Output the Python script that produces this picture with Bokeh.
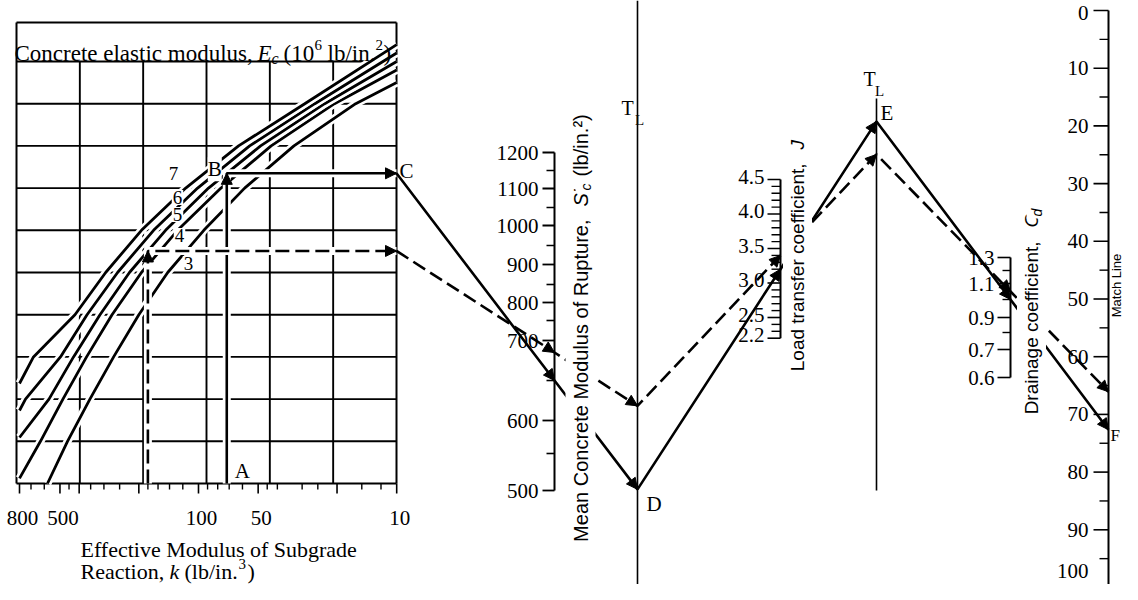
import numpy as np
from bokeh.plotting import figure
from bokeh.models import Range1d, Label, Arrow, NormalHead, ColumnDataSource
from bokeh.embed import file_html
from bokeh.resources import INLINE

# ---------------- values ----------------
# left chart: effective modulus of subgrade reaction k (log axis, 800 -> 10)
k_tick_labels = [800, 500, 100, 50, 10]
k_major_ticks = [800, 500, 400, 200, 100, 50, 20, 10]
k_minor_ticks = [700, 600, 450, 350, 300, 250, 180, 160, 140, 120,
                 90, 80, 70, 60, 45, 40, 30, 25, 15, 12]

# concrete elastic modulus curves (10^6 lb/in.^2): k where each curve crosses the grid rows
ec_names = [7, 6, 5, 4, 3]
ec3_k = [578, 458, 353, 268, 200, 143, 94, 58.5, 33, 16.1, 10]
ec3_row = [0, 1, 2, 3, 4, 5, 6, 7, 8, 9, 9.5]
ec4_k = [800, 627, 483, 367, 273, 194, 127.5, 77, 43, 20.6, 10]
ec4_row = [0.12, 1, 2, 3, 4, 5, 6, 7, 8, 9, 9.8]
ec5_k = [800, 568, 427, 314, 223, 146.6, 89, 48.6, 23.1, 10]
ec5_row = [1.09, 2, 3, 4, 5, 6, 7, 8, 9, 10.0]
ec6_k = [800, 746, 497, 365, 256, 168.5, 101, 55.2, 25.9, 10]
ec6_row = [1.73, 2, 3, 4, 5, 6, 7, 8, 9, 10.2]
ec7_k = [800, 680, 420, 294, 194, 116, 62.8, 29.1, 10]
ec7_row = [2.37, 3, 4, 5, 6, 7, 8, 9, 10.4]

# mean concrete modulus of rupture S'c (lb/in.^2)
sc_major = [1200, 1100, 1000, 900, 800, 700, 600, 500]
sc_minor = [1150, 1050, 950, 850, 750, 650, 550]
# load transfer coefficient J
j_major = [4.5, 4.0, 3.5, 3.0, 2.5, 2.2]
j_minor = [4.4, 4.3, 4.2, 4.1, 3.9, 3.8, 3.7, 3.6, 3.4, 3.3, 3.2, 3.1,
           2.9, 2.8, 2.7, 2.6, 2.4, 2.3]
# drainage coefficient Cd
cd_major = [1.3, 1.1, 0.9, 0.7, 0.6]
cd_minor = [1.2, 1.0, 0.8]
# match line
match_major = [0, 10, 20, 30, 40, 50, 60, 70, 80, 90, 100]
match_minor = [5, 15, 25, 35, 45, 55, 65, 75, 85, 95]

# the two worked examples (solid, dashed)
ex_k = [72, 180]
ex_ec = [5, 5]
ex_sc = [650, 685]
ex_j = [3.2, 3.4]
ex_cd = [1.0, 1.05]

# ---------------- layout (picture pixels) ----------------
W, H = 1122, 584
BOX_L, BOX_R, BOX_T, BAND_B, BOX_B = 16, 396, 22, 61, 483
ROW_H = 42.2
LOG800 = np.log10(800)


def kx(k):
    return 19 + (LOG800 - np.log10(np.asarray(k, dtype=float))) * 198.2


def ry(r):
    return BOX_B - np.asarray(r, dtype=float) * ROW_H


SC_X = 554
SC_CAL_V = [500, 550, 600, 650, 700, 750, 800, 850, 900, 950, 1000, 1050, 1100, 1150, 1200]
SC_CAL_Y = [490, 453, 420, 380, 340, 320, 302, 284, 264, 245, 225, 207, 188, 170, 152]


def sy(v):
    return np.interp(v, SC_CAL_V, SC_CAL_Y)


TL1_X = 637
J_X = 780


def jy(v):
    return 179 + (4.5 - np.asarray(v, dtype=float)) * 69


TL2_X = 876
CD_X = 1010
CD_CAL_V = [0.6, 0.7, 0.8, 0.9, 1.0, 1.1, 1.2, 1.3]
CD_CAL_Y = [377, 349, 332, 317, 299, 283, 270, 257]


def cy(v):
    return np.interp(v, CD_CAL_V, CD_CAL_Y)


M_X = 1108


def my(v):
    return 10 + np.asarray(v, dtype=float) * 5.77


SERIF = "Liberation Serif"
SANS = "Liberation Sans"

p = figure(width=W, height=H, x_range=Range1d(0, W), y_range=Range1d(H, 0),
           output_backend="svg", toolbar_location=None, min_border=0,
           x_axis_location=None, y_axis_location=None)
p.grid.visible = False
p.outline_line_color = None
p.background_fill_color = "white"
p.border_fill_color = "white"


def seg(x0, y0, x1, y1, w=1.6, color="black", dash="solid"):
    p.segment(x0=list(map(float, x0)), y0=list(map(float, y0)),
              x1=list(map(float, x1)), y1=list(map(float, y1)),
              line_color=color, line_width=w, line_dash=dash)


def txt(x, y, s, size=21, font=SERIF, align="left", baseline="middle", angle=0.0,
        style="normal", bg=False, pad=0):
    lab = Label(x=float(x), y=float(y), text=s, text_font=font, text_font_size=f"{size}px",
                text_align=align, text_baseline=baseline, angle=angle,
                text_font_style=style, text_color="black")
    if bg:
        lab.background_fill_color = "white"
        lab.background_fill_alpha = 1.0
        lab.padding = pad
    p.add_layout(lab)


# ---------------- left chart: grid and box ----------------
gx = [BOX_L + (BOX_R - BOX_L) * i / 6 for i in range(1, 6)]
seg(gx, [BAND_B] * 5, gx, [BOX_B] * 5, w=1.9)
rows = np.arange(1, 10)
seg([BOX_L] * 9, ry(rows), [BOX_R] * 9, ry(rows), w=1.9)
seg([BOX_L, BOX_L, BOX_L, BOX_R, BOX_L],
    [BOX_T, BOX_T, BAND_B, BOX_T, BOX_B],
    [BOX_R, BOX_L, BOX_R, BOX_R, BOX_R],
    [BOX_T, BOX_B, BAND_B, BOX_B, BOX_B], w=2.0)

# k axis ticks and labels
seg(kx(k_major_ticks), [BOX_B] * len(k_major_ticks), kx(k_major_ticks),
    [BOX_B + 10] * len(k_major_ticks), w=1.6)
seg(kx(k_minor_ticks), [BOX_B] * len(k_minor_ticks), kx(k_minor_ticks),
    [BOX_B + 6] * len(k_minor_ticks), w=1.4)
for v in k_tick_labels:
    txt(kx(v) + 3, 517, str(v), size=21, align="center")

# Ec curves
curve_data = {3: (ec3_k, ec3_row), 4: (ec4_k, ec4_row), 5: (ec5_k, ec5_row),
              6: (ec6_k, ec6_row), 7: (ec7_k, ec7_row)}
for e in ec_names[::-1]:
    ks, rr = curve_data[e]
    xs, ys = list(kx(ks)), list(ry(rr))
    p.line(xs, ys, line_color="white", line_width=8)
    p.line(xs, ys, line_color="black", line_width=2.8)


def curve_row(ec, k):
    ks, rr = curve_data[ec]
    return float(np.interp(np.log10(k), np.log10(ks)[::-1], np.asarray(rr)[::-1]))


def extend(a, b, x):
    return b[1] + (b[1] - a[1]) / (b[0] - a[0]) * (x - b[0])


# ---------------- worked examples ----------------
heads = dict(x0=[], y0=[], x1=[], y1=[])


def head(a, b):
    dx, dy = b[0] - a[0], b[1] - a[1]
    L = (dx * dx + dy * dy) ** 0.5
    heads["x0"].append(b[0] - dx / L * 6)
    heads["y0"].append(b[1] - dy / L * 6)
    heads["x1"].append(b[0])
    heads["y1"].append(b[1])


pts_store = []
for i in range(2):
    dash = "solid" if i == 0 else "14 6"
    xk = float(kx(ex_k[i]))
    yr = float(ry(curve_row(ex_ec[i], ex_k[i])))
    A = (xk, BOX_B)
    B = (xk, yr)
    C = (BOX_R, yr)
    S = (SC_X, float(sy(ex_sc[i])))
    D = (TL1_X, extend(C, S, TL1_X))
    J = (J_X, float(jy(ex_j[i])))
    E = (TL2_X, extend(D, J, TL2_X))
    Q = (CD_X, float(cy(ex_cd[i])))
    F = (M_X, extend(E, Q, M_X))
    pts_store.append((A, B, C, S, D, J, E, Q, F))
    left = [A, B, C]
    p.line([q[0] for q in left], [q[1] for q in left], line_color="white", line_width=8)
    p.line([q[0] for q in left], [q[1] for q in left], line_color="black",
           line_width=2.6, line_dash=dash)
    right = [C, S, D, J, E, Q, F]
    p.line([q[0] for q in right], [q[1] for q in right], line_color="black",
           line_width=2.6, line_dash=dash)
    for a, b in [(A, B), (B, C), (C, S), (S, D), (D, J), (J, E), (E, Q), (Q, F)]:
        head(a, b)

p.add_layout(Arrow(end=NormalHead(size=11, fill_color="black", line_color="black", line_width=1),
                   x_start="x0", y_start="y0", x_end="x1", y_end="y1",
                   source=ColumnDataSource(heads), line_alpha=0))

# ---------------- scales ----------------
# S'c
seg([SC_X], [sy(1200)], [SC_X], [sy(500)], w=2.0)
seg([SC_X - 12] * len(sc_major), sy(sc_major), [SC_X] * len(sc_major), sy(sc_major), w=1.8)
seg([SC_X - 8] * len(sc_minor), sy(sc_minor), [SC_X] * len(sc_minor), sy(sc_minor), w=1.6)
for v in sc_major:
    txt(SC_X - 16, sy(v), str(v), size=21, align="right")

# turning lines
seg([TL1_X], [0], [TL1_X], [584], w=1.6)
seg([TL2_X], [98], [TL2_X], [490], w=1.6)
txt(TL1_X - 10, 107, "T", size=20, align="center")
txt(TL1_X + 2, 119, "L", size=15, align="center")
txt(TL2_X - 7, 78, "T", size=20, align="center")
txt(TL2_X + 3, 90, "L", size=15, align="center")

# J
seg([J_X], [jy(4.5)], [J_X], [jy(2.2)], w=2.0)
seg([J_X - 13] * len(j_major), jy(j_major), [J_X] * len(j_major), jy(j_major), w=1.6)
seg([J_X - 9] * len(j_minor), jy(j_minor), [J_X] * len(j_minor), jy(j_minor), w=1.4)
for v in j_major:
    txt(J_X - 16, jy(v) - 3, f"{v:.1f}", size=21, align="right")

# Cd
seg([CD_X], [cy(1.3)], [CD_X], [cy(0.6)], w=2.0)
seg([CD_X - 13] * len(cd_major), cy(cd_major), [CD_X] * len(cd_major), cy(cd_major), w=1.6)
seg([CD_X - 8] * len(cd_minor), cy(cd_minor), [CD_X] * len(cd_minor), cy(cd_minor), w=1.4)
for v in cd_major:
    txt(CD_X - 16, cy(v), f"{v:.1f}", size=21, align="right")

# match line
seg([M_X], [my(0)], [M_X], [H], w=2.0)
seg([M_X - 15] * len(match_major), my(match_major), [M_X] * len(match_major), my(match_major), w=1.6)
seg([M_X - 9] * len(match_minor), my(match_minor), [M_X] * len(match_minor), my(match_minor), w=1.4)
for v in match_major:
    ylab = float(my(v))
    ylab = min(max(ylab, 12.0), H - 14.0)
    txt(M_X - 20, ylab, str(v), size=21, align="right")

# ---------------- texts ----------------
# title band of left chart
txt(14, 53, "Concrete elastic modulus,", size=23, baseline="alphabetic")
txt(257, 53, "E", size=23, baseline="alphabetic", style="italic")
txt(271, 58, "c", size=16, baseline="alphabetic", style="italic")
txt(283, 53, "(10", size=23, baseline="alphabetic")
txt(314, 44, "6", size=15, baseline="alphabetic")
txt(327, 53, "lb/in.", size=23, baseline="alphabetic")
txt(375, 44, "2", size=15, baseline="alphabetic")
txt(383, 53, ")", size=23, baseline="alphabetic")

# k axis title
txt(80, 549, "Effective Modulus of Subgrade", size=22, baseline="alphabetic")
txt(80, 571, "Reaction,", size=22, baseline="alphabetic")
txt(169, 571, "k", size=22, baseline="alphabetic", style="italic")
txt(184, 571, "(lb/in.", size=22, baseline="alphabetic")
txt(238, 563, "3", size=15, baseline="alphabetic")
txt(247, 571, ")", size=22, baseline="alphabetic")

# curve labels
curve_label_pos = {7: (173, 173), 6: (177, 197), 5: (177, 214), 4: (179, 235), 3: (188, 263)}
for e in ec_names:
    x, y = curve_label_pos[e]
    txt(x, y, str(e), size=19, align="center", bg=True, pad=1)

# point labels
(A, B, C, S, D, J, E, Q, F) = pts_store[0]
txt(B[0] - 12, B[1] - 4, "B", size=21, align="center", bg=True, pad=0)
txt(A[0] + 8, 470, "A", size=21)
txt(C[0] + 3, C[1] - 2, "C", size=21)
txt(D[0] + 9, D[1] + 15, "D", size=21)
txt(E[0] + 4, E[1] - 8, "E", size=21)
txt(F[0] + 2, F[1] + 6, "F", size=17)

# rotated scale titles (white background breaks the lines)
ROT = np.pi / 2
y0 = 215
txt(580, y0, "Mean Concrete Modulus of Rupture,", size=20, font=SANS, align="right",
    angle=ROT, bg=True, pad=4)
txt(580, y0 - 5, "S\u2032", size=20, font=SANS, align="left", angle=ROT, style="italic", bg=True, pad=4)
txt(585, y0 - 23, "c", size=14, font=SANS, align="left", angle=ROT, style="italic", bg=True, pad=2)
txt(580, y0 - 35, "(lb/in.\u00b2)", size=20, font=SANS, align="left", angle=ROT, bg=True, pad=4)

y1 = 159
txt(797, y1, "Load transfer coefficient,", size=19, font=SANS, align="right", angle=ROT, bg=True, pad=4)
txt(797, y1 - 6, "J", size=19, font=SANS, align="left", angle=ROT, style="italic", bg=True, pad=4)

y2 = 237
txt(1031, y2, "Drainage coefficient,", size=19, font=SANS, align="right", angle=ROT, bg=True, pad=4)
txt(1031, y2 - 6, "C", size=19, font=SANS, align="left", angle=ROT, style="italic", bg=True, pad=4)
txt(1036, y2 - 19, "d", size=14, font=SANS, align="left", angle=ROT, style="italic", bg=True, pad=2)

txt(1115.5, 285, "Match Line", size=13, font=SANS, align="center", angle=ROT)

open("out.html", "w").write(file_html(p, INLINE))
